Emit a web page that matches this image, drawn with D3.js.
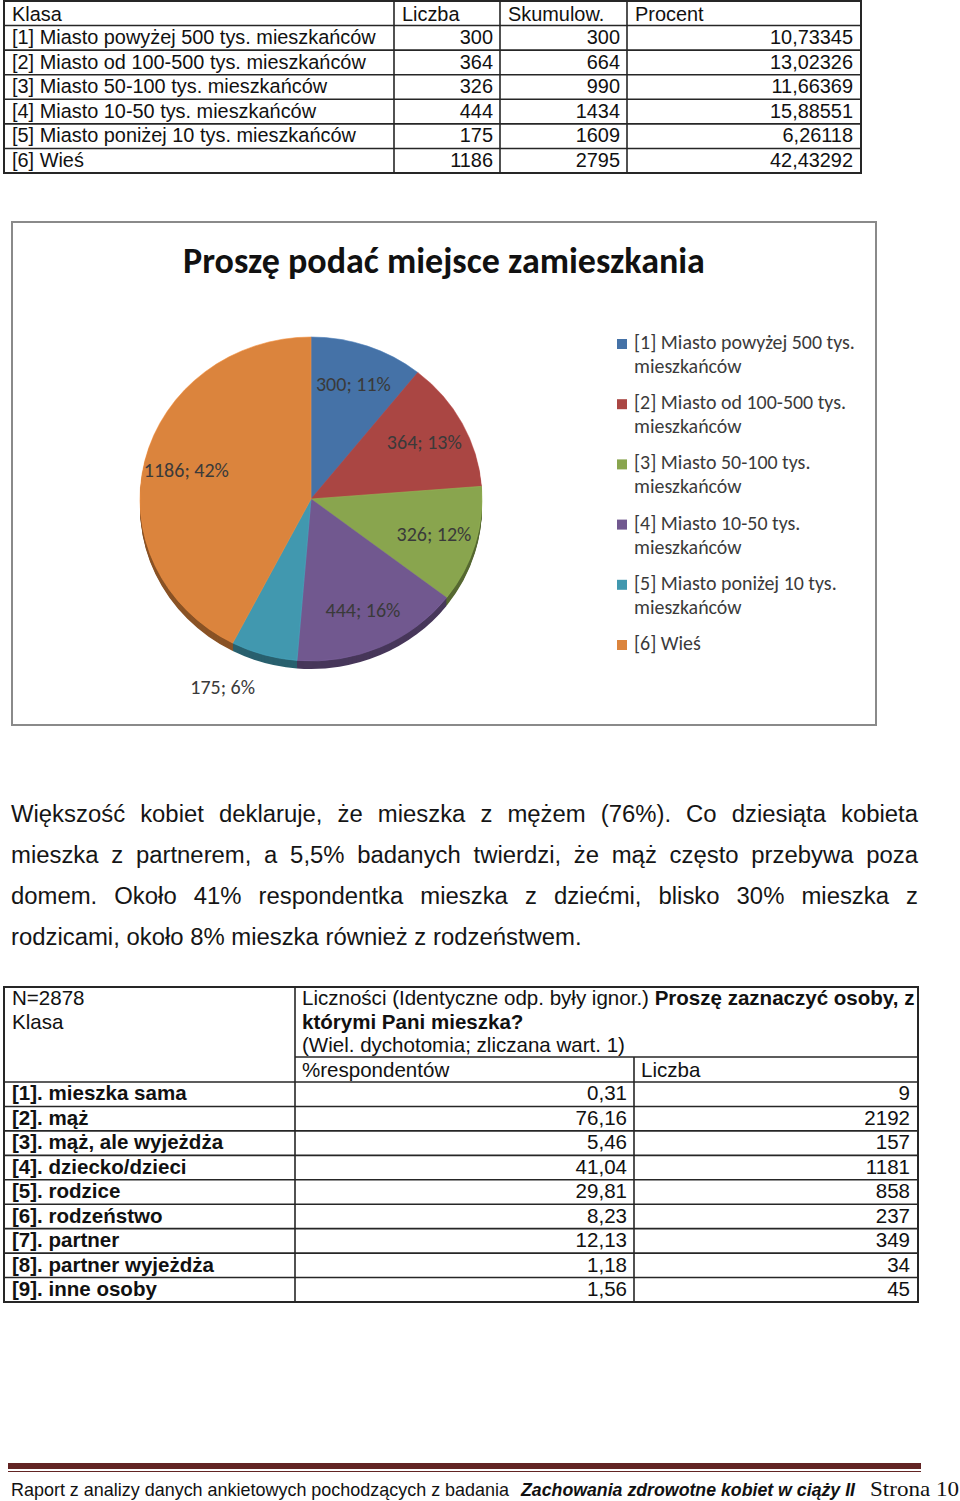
<!DOCTYPE html>
<html><head><meta charset="utf-8">
<script src="https://cdn.jsdelivr.net/npm/d3@7"></script>
<style>body{margin:0;background:#fff}svg{display:block}</style>
</head><body>
<script>
// ---------- DATA ----------
const placeClasses = [
  "[1] Miasto powyżej 500 tys. mieszkańców",
  "[2] Miasto od 100-500 tys. mieszkańców",
  "[3] Miasto 50-100 tys. mieszkańców",
  "[4] Miasto 10-50 tys. mieszkańców",
  "[5] Miasto poniżej 10 tys. mieszkańców",
  "[6] Wieś"
];
const placeCounts = [300, 364, 326, 444, 175, 1186];
const placeCumulative = [300, 664, 990, 1434, 1609, 2795];
const placePercents = [10.73345, 13.02326, 11.66369, 15.88551, 6.26118, 42.43292];
const topHeaders = ["Klasa", "Liczba", "Skumulow.", "Procent"];

const chartTitle = "Proszę podać miejsce zamieszkania";
const legendLines = [
  ["[1] Miasto powyżej 500 tys.", "mieszkańców"],
  ["[2] Miasto od 100-500 tys.", "mieszkańców"],
  ["[3] Miasto 50-100 tys.", "mieszkańców"],
  ["[4] Miasto 10-50 tys.", "mieszkańców"],
  ["[5] Miasto poniżej 10 tys.", "mieszkańców"],
  ["[6] Wieś"]
];
const sliceColors = ["#4572A7", "#AA4643", "#89A54E", "#71588F", "#4198AF", "#DB843D"];

const paragraphLines = [
  "Większość kobiet deklaruje, że mieszka z mężem (76%). Co dziesiąta kobieta",
  "mieszka z partnerem, a 5,5% badanych twierdzi, że mąż często przebywa poza",
  "domem. Około 41% respondentka mieszka z dziećmi, blisko 30% mieszka z",
  "rodzicami, około 8% mieszka również z rodzeństwem."
];

const personClasses = [
  "[1]. mieszka sama", "[2]. mąż", "[3]. mąż, ale wyjeżdża", "[4]. dziecko/dzieci",
  "[5]. rodzice", "[6]. rodzeństwo", "[7]. partner", "[8]. partner wyjeżdża", "[9]. inne osoby"
];
const personPct = [0.31, 76.16, 5.46, 41.04, 29.81, 8.23, 12.13, 1.18, 1.56];
const personCounts = [9, 2192, 157, 1181, 858, 237, 349, 34, 45];
const headerLeft = ["N=2878", "Klasa"];
const headerRightNormal = "Liczności (Identyczne odp. były ignor.) ";
const headerRightBold1 = "Proszę zaznaczyć osoby, z";
const headerRightBold2 = "którymi Pani mieszka?";
const headerRight3 = "(Wiel. dychotomia; zliczana wart. 1)";
const subHeaders = ["%respondentów", "Liczba"];

const footerPlain = "Raport z analizy danych ankietowych pochodzących z badania";
const footerItalic = "Zachowania zdrowotne kobiet w ciąży II";
const footerPage = "Strona 10";

// ---------- SETUP ----------
const W = 960, H = 1501;
const svg = d3.select("body").append("svg").attr("width", W).attr("height", H);
const ARIAL = "'Liberation Sans', Arial, sans-serif";
const CALIBRI = "Carlito, Lato, 'Open Sans', sans-serif";
const SERIF = "'Liberation Serif', 'DejaVu Serif', serif";
const LINE = "#262626";

function measure(text, family, size, weight = "normal", style = "normal") {
  const t = svg.append("text").attr("font-family", family).attr("font-size", size)
    .attr("font-weight", weight).attr("font-style", style).text(text);
  const w = t.node().getComputedTextLength(); t.remove(); return w;
}
function sizeFor(text, family, targetW, weight = "normal", style = "normal") {
  return 20 * targetW / measure(text, family, 20, weight, style);
}
const commaFmt = f => v => d3.format(f)(v).replace(".", ",");

// ---------- TOP TABLE ----------
{
  const fs = sizeFor(placeClasses[0], ARIAL, 364);
  const colX = [4, 394, 500, 627, 861];
  const rowY = d3.scaleLinear().domain([0, 7]).range([1, 173]);
  const g = svg.append("g").attr("font-family", ARIAL).attr("font-size", fs).attr("fill", "#111");
  g.append("rect").attr("x", colX[0]).attr("y", rowY(0)).attr("width", colX[4] - colX[0])
    .attr("height", rowY(7) - rowY(0)).attr("fill", "none").attr("stroke", LINE).attr("stroke-width", 2);
  d3.range(1, 7).forEach(i => g.append("line").attr("x1", colX[0]).attr("x2", colX[4])
    .attr("y1", rowY(i)).attr("y2", rowY(i)).attr("stroke", LINE).attr("stroke-width", 1.6));
  [1, 2, 3].forEach(c => g.append("line").attr("x1", colX[c]).attr("x2", colX[c])
    .attr("y1", rowY(0)).attr("y2", rowY(7)).attr("stroke", LINE).attr("stroke-width", 1.6));
  topHeaders.forEach((h, c) => g.append("text").attr("x", colX[c] + 8).attr("y", rowY(1) - 5).text(h));
  placeClasses.forEach((name, i) => {
    const y = rowY(i + 2) - 6;
    g.append("text").attr("x", colX[0] + 8).attr("y", y).text(name);
    g.append("text").attr("x", colX[2] - 7).attr("y", y).attr("text-anchor", "end").text(placeCounts[i]);
    g.append("text").attr("x", colX[3] - 7).attr("y", y).attr("text-anchor", "end").text(placeCumulative[i]);
    g.append("text").attr("x", colX[4] - 8).attr("y", y).attr("text-anchor", "end").text(commaFmt(".5f")(placePercents[i]));
  });
}

// ---------- PIE CHART ----------
{
  const frame = {x: 12, y: 222, w: 864, h: 503};
  svg.append("rect").attr("x", frame.x).attr("y", frame.y).attr("width", frame.w).attr("height", frame.h)
    .attr("fill", "#fff").attr("stroke", "#8a8a8a").attr("stroke-width", 2);

  const tfs = sizeFor(chartTitle, CALIBRI, 522, "bold");
  svg.append("text").attr("x", frame.x + frame.w / 2).attr("y", 273).attr("text-anchor", "middle")
    .attr("font-family", CALIBRI).attr("font-weight", "bold").attr("font-size", tfs)
    .attr("fill", "#111").text(chartTitle);

  const cx = 311, cy = 499, rx = 171, ry = 162, depth = 8;
  const k = ry / rx;
  const total = d3.sum(placeCounts);
  const pie = d3.pie().sort(null).value(d => d)(placeCounts);
  const arc = d3.arc().innerRadius(0).outerRadius(rx);

  // side (extrusion)
  for (let i = depth; i >= 1; i--) {
    const gs = svg.append("g").attr("transform", `translate(${cx},${cy + i}) scale(1,${k})`);
    gs.selectAll("path").data(pie).join("path").attr("d", arc)
      .attr("fill", (d, j) => d3.color(sliceColors[j]).darker(1.3));
  }
  const gp = svg.append("g").attr("transform", `translate(${cx},${cy}) scale(1,${k})`);
  gp.selectAll("path").data(pie).join("path").attr("d", arc)
    .attr("fill", (d, j) => sliceColors[j])
    .attr("stroke", (d, j) => d3.color(sliceColors[j]).brighter(0.3)).attr("stroke-width", 0.6);

  const lfs = sizeFor("300; 11%", CALIBRI, 75);
  const labelArc = d3.arc().innerRadius(0).outerRadius(rx * 1.5);
  const outArc = d3.arc().innerRadius(rx * 1.27).outerRadius(rx * 1.27);
  svg.append("g").selectAll("text").data(pie).join("text")
    .attr("transform", (d, j) => {
      const [x, y] = j === 4
        ? outArc.centroid({...d, startAngle: d.startAngle + 0.14, endAngle: d.endAngle + 0.14})
        : labelArc.centroid(d);
      return `translate(${cx + x},${cy + y * k})`;
    })
    .attr("text-anchor", "middle").attr("dy", "0.35em")
    .attr("font-family", CALIBRI).attr("font-size", lfs).attr("fill", "#3a3a3a")
    .text((d, j) => `${placeCounts[j]}; ${Math.round(placeCounts[j] / total * 100)}%`);

  // legend
  const legfs = sizeFor(legendLines[0][0], CALIBRI, 221);
  const legY = d3.scaleLinear().domain([0, 5]).range([349, 650]);
  const lg = svg.append("g").attr("font-family", CALIBRI).attr("font-size", legfs).attr("fill", "#3a3a3a");
  legendLines.forEach((lines, i) => {
    lg.append("rect").attr("x", 617).attr("y", legY(i) - 10).attr("width", 10).attr("height", 10)
      .attr("fill", sliceColors[i]);
    lines.forEach((ln, j) => lg.append("text").attr("x", 634).attr("y", legY(i) + j * 24).text(ln));
  });
}

// ---------- PARAGRAPH ----------
{
  const fs = sizeFor(paragraphLines[3], ARIAL, 571);
  const left = 11, right = 918;
  const g = svg.append("g").attr("font-family", ARIAL).attr("font-size", fs).attr("fill", "#151515");
  const lineY = d3.scaleLinear().domain([0, 3]).range([822, 945]);
  paragraphLines.forEach((line, i) => {
    const y = lineY(i);
    if (i === paragraphLines.length - 1) {
      g.append("text").attr("x", left).attr("y", y).text(line);
      return;
    }
    const words = line.split(" ");
    const widths = words.map(w => measure(w, ARIAL, fs));
    const gap = (right - left - d3.sum(widths)) / (words.length - 1);
    let x = left;
    words.forEach((w, j) => {
      g.append("text").attr("x", x).attr("y", y).text(w);
      x += widths[j] + gap;
    });
  });
}

// ---------- BOTTOM TABLE ----------
{
  const fs = sizeFor(headerRightNormal + headerRightBold1, ARIAL, 599);
  const colX = [4, 295, 634, 918];
  const top = 987, headLine = 1057;
  const rowY = d3.scaleLinear().domain([0, 9]).range([1082, 1302]);
  const g = svg.append("g").attr("font-family", ARIAL).attr("font-size", fs).attr("fill", "#111");
  g.append("rect").attr("x", colX[0]).attr("y", top).attr("width", colX[3] - colX[0])
    .attr("height", rowY(9) - top).attr("fill", "none").attr("stroke", LINE).attr("stroke-width", 2);
  g.append("line").attr("x1", colX[1]).attr("x2", colX[3]).attr("y1", headLine).attr("y2", headLine)
    .attr("stroke", LINE).attr("stroke-width", 1.6);
  d3.range(0, 9).forEach(i => g.append("line").attr("x1", colX[0]).attr("x2", colX[3])
    .attr("y1", rowY(i)).attr("y2", rowY(i)).attr("stroke", LINE).attr("stroke-width", 1.6));
  g.append("line").attr("x1", colX[1]).attr("x2", colX[1]).attr("y1", top).attr("y2", rowY(9))
    .attr("stroke", LINE).attr("stroke-width", 1.6);
  g.append("line").attr("x1", colX[2]).attr("x2", colX[2]).attr("y1", headLine).attr("y2", rowY(9))
    .attr("stroke", LINE).attr("stroke-width", 1.6);

  headerLeft.forEach((t, i) => g.append("text").attr("x", colX[0] + 8).attr("y", 1005 + i * 23.5).text(t));
  const h1 = g.append("text").attr("x", colX[1] + 7).attr("y", 1005);
  h1.append("tspan").text(headerRightNormal);
  h1.append("tspan").attr("font-weight", "bold").text(headerRightBold1);
  g.append("text").attr("x", colX[1] + 7).attr("y", 1028.5).attr("font-weight", "bold").text(headerRightBold2);
  g.append("text").attr("x", colX[1] + 7).attr("y", 1052).text(headerRight3);
  subHeaders.forEach((t, i) => g.append("text").attr("x", colX[i + 1] + 7).attr("y", 1077).text(t));

  personClasses.forEach((name, i) => {
    const y = rowY(i + 1) - 6;
    g.append("text").attr("x", colX[0] + 8).attr("y", y).attr("font-weight", "bold").text(name);
    g.append("text").attr("x", colX[2] - 7).attr("y", y).attr("text-anchor", "end").text(commaFmt(".2f")(personPct[i]));
    g.append("text").attr("x", colX[3] - 8).attr("y", y).attr("text-anchor", "end").text(personCounts[i]);
  });
}

// ---------- FOOTER ----------
{
  svg.append("rect").attr("x", 8).attr("y", 1463).attr("width", 913).attr("height", 6).attr("fill", "#622423");
  svg.append("line").attr("x1", 8).attr("x2", 921).attr("y1", 1471.5).attr("y2", 1471.5)
    .attr("stroke", "#622423").attr("stroke-width", 1);
  const y = 1496;
  svg.append("text").attr("x", 11).attr("y", y).attr("font-family", "'Liberation Sans Narrow', " + ARIAL)
    .attr("font-size", 19).attr("textLength", 498).attr("lengthAdjust", "spacingAndGlyphs")
    .attr("fill", "#111").text(footerPlain);
  svg.append("text").attr("x", 521).attr("y", y).attr("font-family", "'Liberation Sans Narrow', " + ARIAL)
    .attr("font-size", 19).attr("font-weight", "bold").attr("font-style", "italic")
    .attr("textLength", 334).attr("lengthAdjust", "spacingAndGlyphs").attr("fill", "#111").text(footerItalic);
  svg.append("text").attr("x", 870).attr("y", y).attr("font-family", SERIF)
    .attr("font-size", 21).attr("textLength", 89).attr("lengthAdjust", "spacingAndGlyphs")
    .attr("fill", "#111").text(footerPage);
}
</script>
</body></html>
